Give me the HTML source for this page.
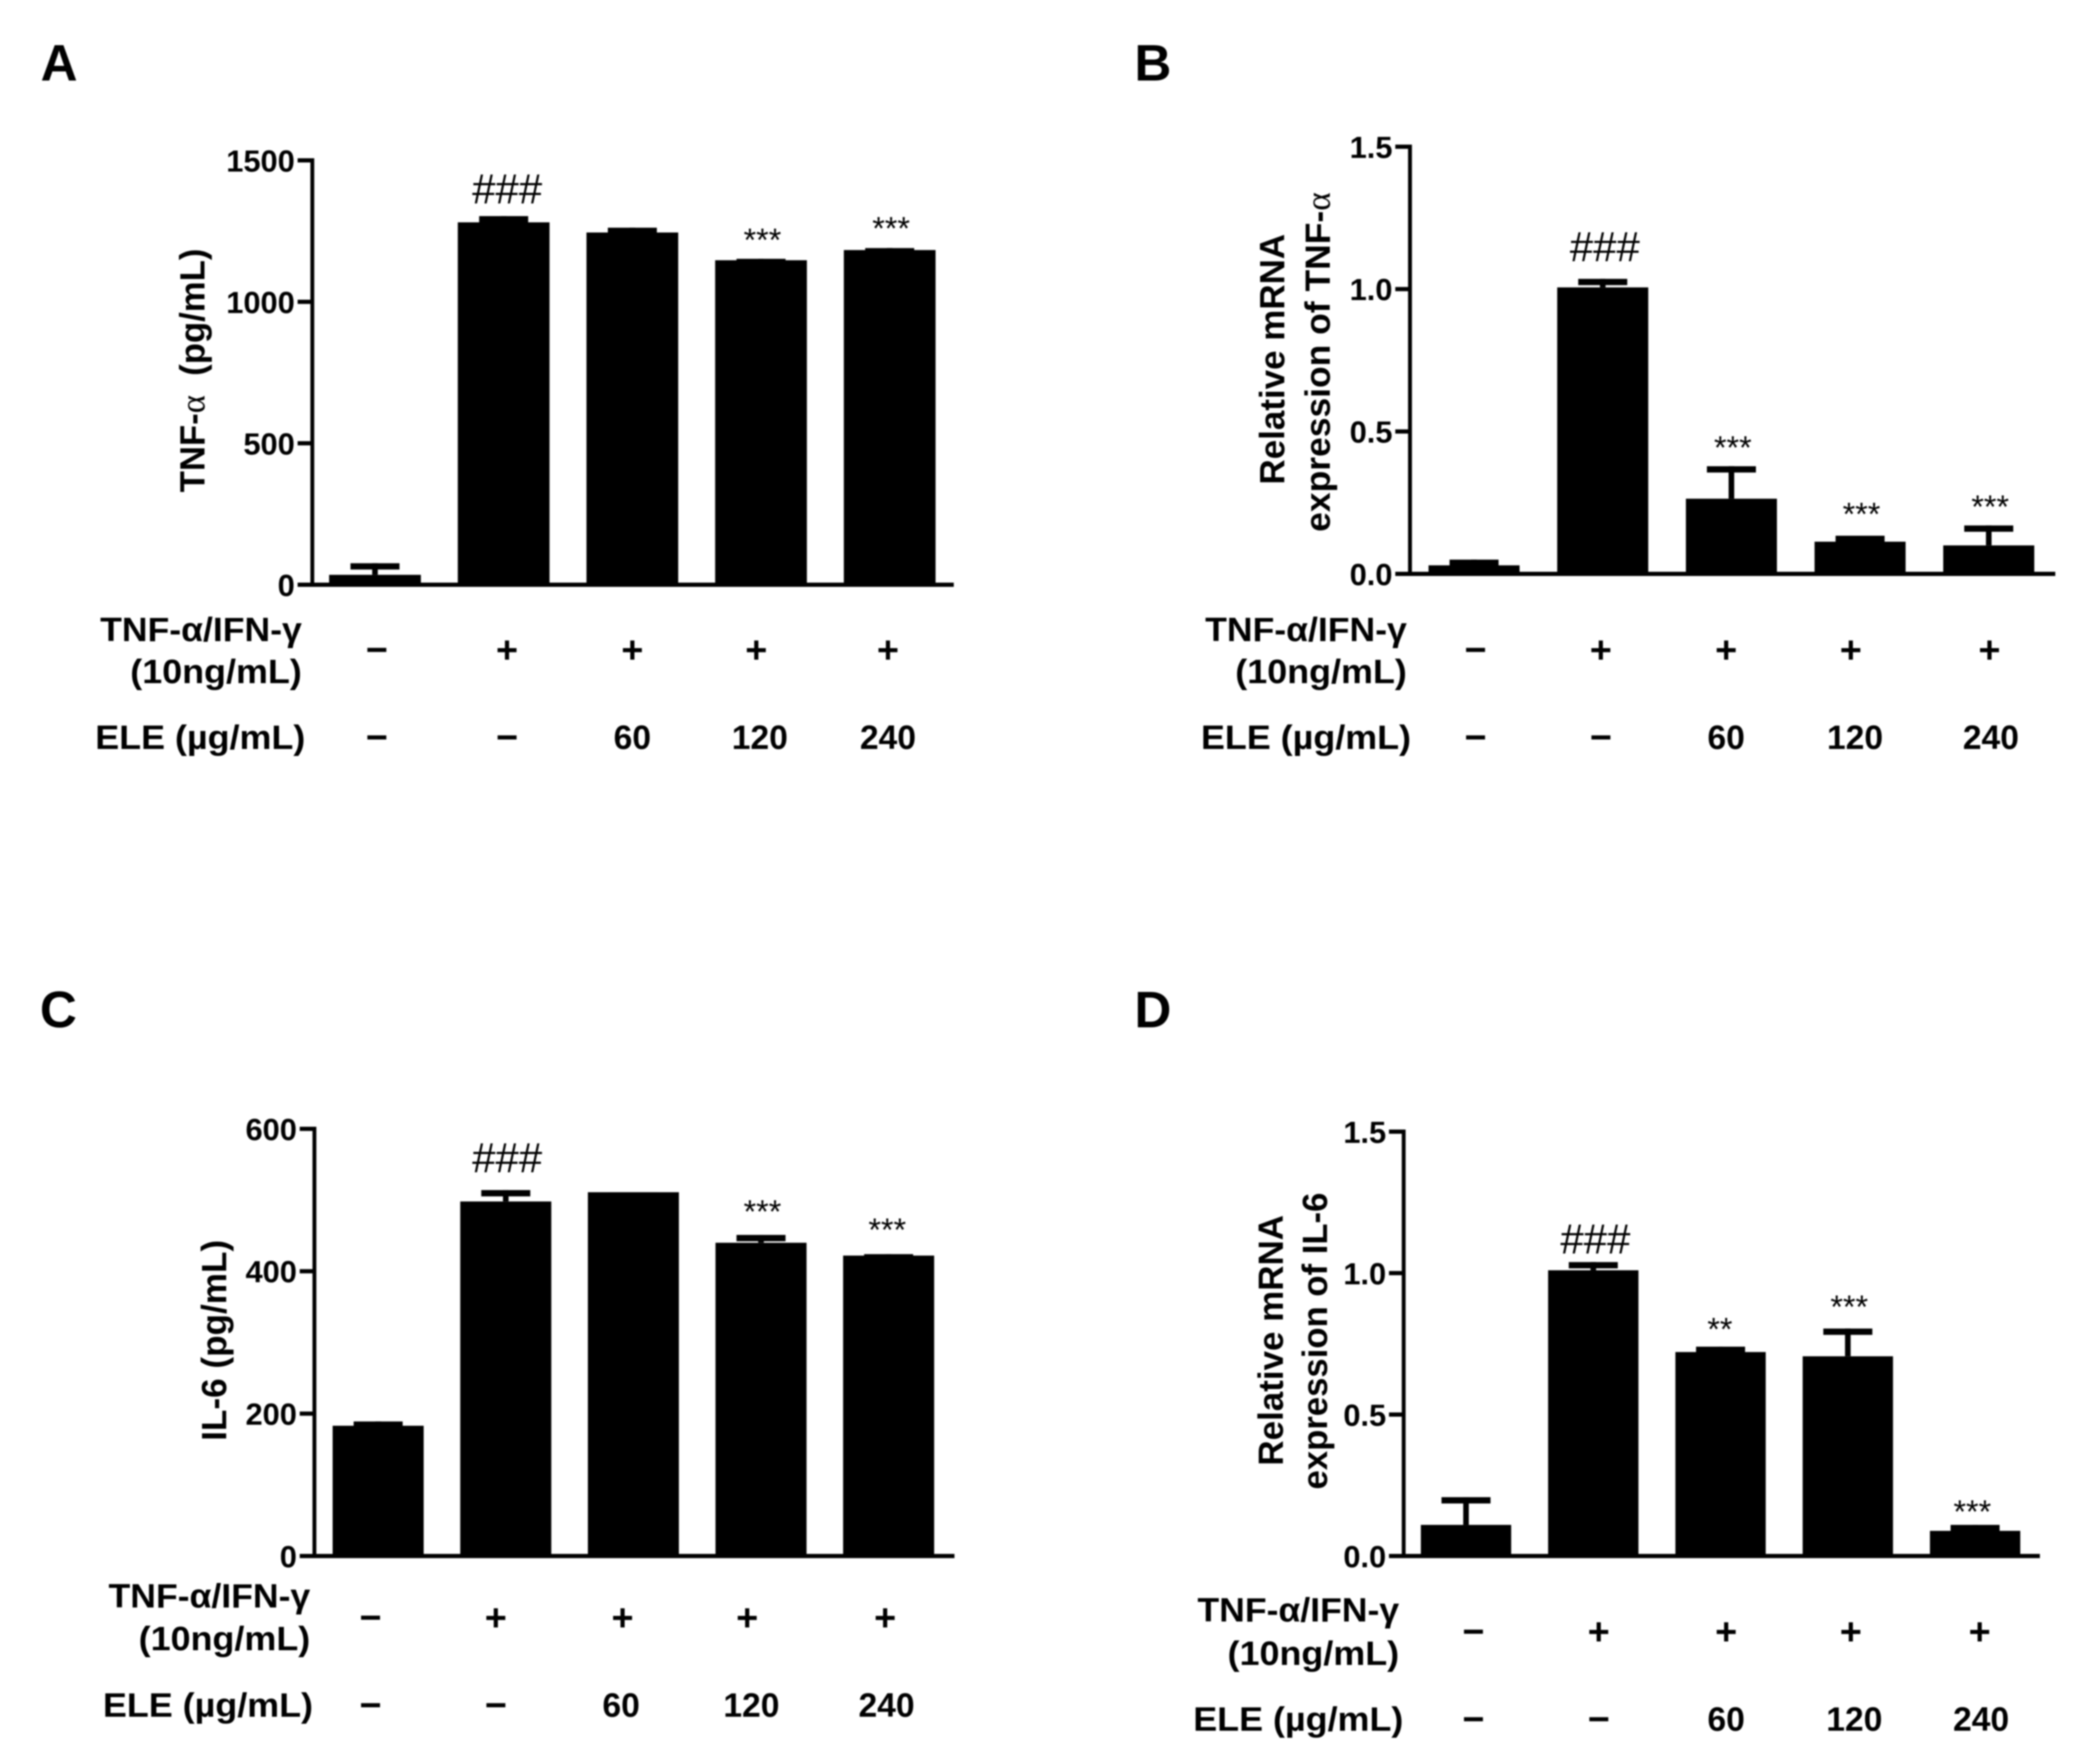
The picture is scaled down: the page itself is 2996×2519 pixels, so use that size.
<!DOCTYPE html>
<html lang="en">
<head>
<meta charset="utf-8">
<title>ELE effects on TNF-α and IL-6</title>
<style>
  html, body { margin: 0; padding: 0; background: #fff; }
  #figure { display: block; width: 2996px; height: 2519px; filter: blur(1.1px); background: #fff; }
  text { font-family: "Liberation Sans", "DejaVu Sans", sans-serif; fill: #000; }
</style>
</head>
<body>
<svg id="figure" xmlns="http://www.w3.org/2000/svg" width="2996" height="2519" viewBox="0 0 2996 2519"></svg>
<script>
// ---------- chart data ----------
const rowCytokine = ['\u2212', '+', '+', '+', '+'];
const rowEle = ['\u2212', '\u2212', '60', '120', '240'];

const valuesA = [35, 1281, 1245, 1147, 1183];
const upperA = [76, 1303, 1262, 1152, 1190];
const marksA = ['', '###', '', '***', '***'];
const tickLabelsA = ['0', '500', '1000', '1500'];
const ticksA = [0, 500, 1000, 1500];

const valuesB = [0.03, 1.006, 0.264, 0.113, 0.1];
const upperB = [0.05, 1.036, 0.378, 0.134, 0.17];
const marksB = ['', '###', '***', '***', '***'];
const tickLabelsB = ['0.0', '0.5', '1.0', '1.5'];
const ticksB = [0, 0.5, 1, 1.5];

const valuesC = [183, 498, 511, 440, 422];
const upperC = [189, 514, 511, 451, 424];
const marksC = ['', '###', '', '***', '***'];
const tickLabelsC = ['0', '200', '400', '600'];
const ticksC = [0, 200, 400, 600];

const valuesD = [0.11, 1.01, 0.721, 0.706, 0.089];
const upperD = [0.208, 1.039, 0.74, 0.804, 0.11];
const marksD = ['', '###', '**', '***', '***'];
const tickLabelsD = ['0.0', '0.5', '1.0', '1.5'];
const ticksD = [0, 0.5, 1, 1.5];

// ---------- layout ----------
const panels = [
  { id: 'a', letter: 'A', letterX: 58, letterY: 115,
    values: valuesA, upper: upperA, marks: marksA, ticks: ticksA, tickLabels: tickLabelsA, yMax: 1500,
    axisX: 446, y0: 835, yTop: 229, xEnd: 1362, barLeft: 470, pitch: 183.75, barW: 131,
    markGap: [0, 39, 0, 37, 38], markShift: [0, 5, 0, 0, 0],
    rowCentersTop: [538, 724, 903, 1080, 1268], rowCentersBottom: [538, 724, 903, 1085, 1268],
    rowTopY: 927, rowBottomY: 1052, labelTopY: 898, labelMidY: 958, labelBottomY: 1052,
    labelTopRight: 431, labelBottomRight: 436,
    titles: [{ x: 274, y: 529, len: 348, parts: ['TNF-', '\u03b1', '\u00a0\u00a0(pg/mL)'] }] },
  { id: 'b', letter: 'B', letterX: 1620, letterY: 115,
    values: valuesB, upper: upperB, marks: marksB, ticks: ticksB, tickLabels: tickLabelsB, yMax: 1.5,
    axisX: 2013.5, y0: 819.5, yTop: 209.5, xEnd: 2935, barLeft: 2040, pitch: 183.75, barW: 130,
    markGap: [0, 46, 37, 41, 37], markShift: [0, 3, 0, 0, 0],
    rowCentersTop: [2107, 2286, 2465, 2643, 2841], rowCentersBottom: [2107, 2286, 2465, 2649, 2843],
    rowTopY: 927, rowBottomY: 1052, labelTopY: 898, labelMidY: 958, labelBottomY: 1052,
    labelTopRight: 2009, labelBottomRight: 2015,
    titles: [{ x: 1816, y: 513, len: 358, parts: ['Relative mRNA'] },
             { x: 1881, y: 517, len: 485, parts: ['expression of TNF-', '\u03b1'] }] },
  { id: 'c', letter: 'C', letterX: 57, letterY: 1467,
    values: valuesC, upper: upperC, marks: marksC, ticks: ticksC, tickLabels: tickLabelsC, yMax: 600,
    axisX: 449, y0: 2222, yTop: 1612, xEnd: 1363, barLeft: 475, pitch: 182.25, barW: 130,
    markGap: [0, 46.5, 0, 43.5, 45], markShift: [0, 2, 0, 0, -4],
    rowCentersTop: [529, 708, 889, 1067, 1264], rowCentersBottom: [529, 708, 887, 1073, 1266],
    rowTopY: 2309, rowBottomY: 2434, labelTopY: 2278, labelMidY: 2339, labelBottomY: 2434,
    labelTopRight: 443, labelBottomRight: 447,
    titles: [{ x: 305, y: 1914, len: 287, parts: ['IL-6 (pg/mL)'] }] },
  { id: 'd', letter: 'D', letterX: 1620, letterY: 1467,
    values: valuesD, upper: upperD, marks: marksD, ticks: ticksD, tickLabels: tickLabelsD, yMax: 1.5,
    axisX: 2004.5, y0: 2222, yTop: 1616, xEnd: 2913, barLeft: 2029, pitch: 181.75, barW: 129,
    markGap: [0, 33, 35, 41, 29], markShift: [0, 3, -3, 0, -6],
    rowCentersTop: [2104, 2283, 2465, 2643, 2827], rowCentersBottom: [2104, 2283, 2465, 2648, 2829],
    rowTopY: 2329, rowBottomY: 2454, labelTopY: 2298, labelMidY: 2360, labelBottomY: 2454,
    labelTopRight: 1998, labelBottomRight: 2004,
    titles: [{ x: 1814, y: 1914, len: 358, parts: ['Relative mRNA'] },
             { x: 1877, y: 1915, len: 424, parts: ['expression of IL-6'] }] }
];

const NS = 'http://www.w3.org/2000/svg';
const root = document.getElementById('figure');

function make(parent, tag, attrs, content) {
  const el = document.createElementNS(NS, tag);
  for (const k in attrs) el.setAttribute(k, attrs[k]);
  if (content !== undefined) el.textContent = content;
  parent.appendChild(el);
  return el;
}
function yScale(p, v) { return p.y0 - (v / p.yMax) * (p.y0 - p.yTop); }
function xLeft(p, i) { return p.barLeft + i * p.pitch; }
function xCenter(p, i) { return xLeft(p, i) + p.barW / 2; }
function rowFontSize(s) { return (s === '+' || s === '\u2212') ? 54 : 48; }
function rowBaseline(s, y) { return (s === '+' || s === '\u2212') ? y + 54 * 0.35 : y + 48 * 0.36; }

const CAP_W = 70, CAP_H = 9, STEM_W = 8, AXIS_W = 6, TICK_LEN = 21;
const TICK_FS = 44, ROW_FS = 48, TITLE_FS = 50;

panels.forEach(function (p) {
  const g = make(root, 'g', {});
  
  

  const letter = make(g, 'text', { x: p.letterX, y: p.letterY, 'font-size': 73, 'font-weight': 'bold' }, p.letter);
  
  

  // bars and error bars
  p.values.forEach(function (v, i) {
    const top = yScale(p, v);
    const capY = yScale(p, p.upper[i]);
    const cx = xCenter(p, i);

    const stem = make(g, 'rect', { x: cx - STEM_W / 2, y: capY, width: STEM_W, height: Math.max(0, top - capY), fill: '#000' });
    
    

    const cap = make(g, 'rect', { x: cx - CAP_W / 2, y: capY, width: CAP_W, height: CAP_H, fill: '#000' });
    
    

    const bar = make(g, 'rect', { x: xLeft(p, i), y: top, width: p.barW, height: p.y0 - top, fill: '#000' });
    
    

    // significance marks sit above the error cap
    const m = p.marks[i];
    if (m) {
      const isHash = m.charAt(0) === '#';
      const fs = isHash ? 60 : 46;
      const centerY = capY - p.markGap[i];
      const baseline = centerY + (isHash ? 21 : 26);
      const t = make(g, 'text', { x: cx + (isHash ? 0 : 2) + p.markShift[i], y: baseline, 'font-size': fs, 'text-anchor': 'middle' }, m);
      
      
    }
  });

  // axes
  const yAxis = make(g, 'rect', { x: p.axisX - 2.75, y: p.yTop - 3, width: 5.5, height: p.y0 - p.yTop + 6, fill: '#000' });
  
  

  const xAxis = make(g, 'rect', { x: p.axisX - TICK_LEN, y: p.y0 - AXIS_W / 2, width: p.xEnd - p.axisX + TICK_LEN, height: AXIS_W, fill: '#000' });
  
  

  p.ticks.forEach(function (tv, i) {
    const y = yScale(p, tv);
    const tick = make(g, 'rect', { x: p.axisX - TICK_LEN, y: y - AXIS_W / 2, width: TICK_LEN, height: AXIS_W, fill: '#000' });
    
    

    const lab = make(g, 'text', { x: p.axisX - 25, y: y + TICK_FS * 0.36, 'font-size': TICK_FS, 'font-weight': 'bold', 'text-anchor': 'end' }, p.tickLabels[i]);
    
    
  });

  // y axis titles
  p.titles.forEach(function (tt, i) {
    const t = make(g, 'text', {
      transform: 'translate(' + (tt.x + TITLE_FS * 0.36) + ' ' + tt.y + ') rotate(-90)',
      x: 0, y: 0, 'font-size': TITLE_FS, 'font-weight': 'bold', 'text-anchor': 'middle',
      textLength: tt.len, lengthAdjust: 'spacingAndGlyphs'
    });
    
    
    tt.parts.forEach(function (part) {
      const attrs = part === '\u03b1' ? { 'font-weight': 'normal', 'font-family': '"Liberation Serif", serif' } : {};
      make(t, 'tspan', attrs, part);
    });
  });

  // treatment row labels
  const l1 = make(g, 'text', { x: p.labelTopRight, y: p.labelTopY + ROW_FS * 0.36, 'font-size': ROW_FS, 'font-weight': 'bold', 'text-anchor': 'end', textLength: 288, lengthAdjust: 'spacingAndGlyphs' }, 'TNF-\u03b1/IFN-\u03b3');
  
  

  const l2 = make(g, 'text', { x: p.labelTopRight, y: p.labelMidY + ROW_FS * 0.36, 'font-size': ROW_FS, 'font-weight': 'bold', 'text-anchor': 'end', textLength: 245, lengthAdjust: 'spacingAndGlyphs' }, '(10ng/mL)');
  
  

  const l3 = make(g, 'text', { x: p.labelBottomRight, y: p.labelBottomY + ROW_FS * 0.36, 'font-size': ROW_FS, 'font-weight': 'bold', 'text-anchor': 'end', textLength: 300, lengthAdjust: 'spacingAndGlyphs' }, 'ELE (\u00b5g/mL)');
  
  

  rowCytokine.forEach(function (s, i) {
    const t = make(g, 'text', { x: p.rowCentersTop[i], y: rowBaseline(s, p.rowTopY), 'font-size': rowFontSize(s), 'font-weight': 'bold', 'text-anchor': 'middle' }, s);
    
    
  });
  rowEle.forEach(function (s, i) {
    const t = make(g, 'text', { x: p.rowCentersBottom[i], y: rowBaseline(s, p.rowBottomY), 'font-size': rowFontSize(s), 'font-weight': 'bold', 'text-anchor': 'middle' }, s);
    
    
  });
});
</script>
</body>
</html>
